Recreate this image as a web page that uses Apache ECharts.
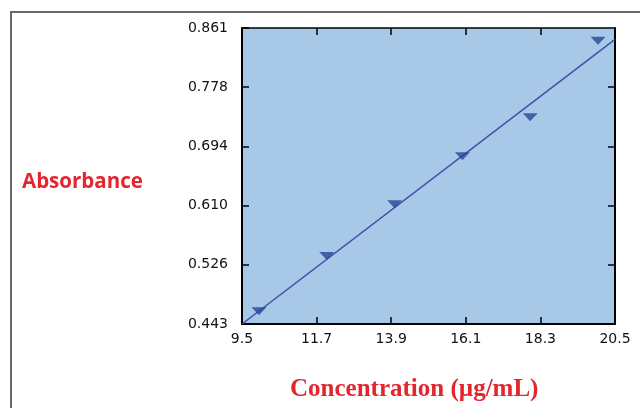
<!DOCTYPE html>
<html>
<head>
<meta charset="utf-8">
<script src="https://cdn.jsdelivr.net/npm/echarts@6/dist/echarts.min.js"></script>
<style>html,body{margin:0;padding:0;background:#fff}#chart{width:640px;height:408px}</style>
</head>
<body>
<div id="chart"></div>
<script>
const concentrations = [10, 12, 14, 16, 18, 20];
const absorbance = [0.461, 0.539, 0.612, 0.680, 0.735, 0.843];
const fitX = [9.5, 20.5];
const fitY = [0.443, 0.845];
const xTickValues = [9.5, 11.7, 13.9, 16.1, 18.3, 20.5];
const xTickLabels = ['9.5', '11.7', '13.9', '16.1', '18.3', '20.5'];
const yTickValues = [0.443, 0.5266, 0.6102, 0.6938, 0.7774, 0.861];
const yTickLabels = ['0.443', '0.526', '0.610', '0.694', '0.778', '0.861'];
const yTitle = 'Absorbance';
const xTitle = 'Concentration (µg/mL)';

function labelFor(values, labels) {
  return function (v) {
    let best = 0, bd = Infinity;
    values.forEach((t, i) => { const d = Math.abs(t - v); if (d < bd) { bd = d; best = i; } });
    return labels[best];
  };
}

const chart = echarts.init(document.getElementById('chart'), null, {renderer: 'canvas'});
const labelStyle = {color: '#111', fontFamily: 'DejaVu Sans', fontSize: 14};
const tickStyle = {show: true, inside: true, length: 7, lineStyle: {color: '#000', width: 1.5}};
chart.setOption({
  animation: false,
  grid: {left: 242, right: 25, top: 28, bottom: 84, show: true, backgroundColor: '#A8C8E8', borderWidth: 0},
  xAxis: [{
    type: 'value', min: 9.5, max: 20.5, position: 'bottom',
    splitLine: {show: false},
    axisLine: {show: true, onZero: false, lineStyle: {color: '#000', width: 2}},
    axisTick: Object.assign({customValues: xTickValues}, tickStyle),
    axisLabel: Object.assign({customValues: xTickValues, margin: 8, formatter: labelFor(xTickValues, xTickLabels), showMinLabel: true, showMaxLabel: true, hideOverlap: false}, labelStyle)
  }, {
    type: 'value', min: 9.5, max: 20.5, position: 'top',
    splitLine: {show: false},
    axisLine: {show: true, onZero: false, lineStyle: {color: '#000', width: 1.5}},
    axisTick: Object.assign({customValues: xTickValues.slice(1, -1)}, tickStyle),
    axisLabel: {show: false}
  }],
  yAxis: [{
    type: 'value', min: 0.443, max: 0.861, position: 'left',
    splitLine: {show: false},
    axisLine: {show: true, onZero: false, lineStyle: {color: '#000', width: 2}},
    axisTick: Object.assign({customValues: yTickValues}, tickStyle),
    axisLabel: Object.assign({customValues: yTickValues, margin: 14, formatter: labelFor(yTickValues, yTickLabels), showMinLabel: true, showMaxLabel: true, hideOverlap: false}, labelStyle)
  }, {
    type: 'value', min: 0.443, max: 0.861, position: 'right',
    splitLine: {show: false},
    axisLine: {show: true, onZero: false, lineStyle: {color: '#000', width: 2}},
    axisTick: Object.assign({customValues: yTickValues.slice(1, -1)}, tickStyle),
    axisLabel: {show: false}
  }],
  series: [{
    type: 'line',
    data: fitX.map((x, i) => [x, fitY[i]]),
    showSymbol: false, symbol: 'none',
    lineStyle: {color: '#3C4FA6', width: 1.5},
    z: 2
  }, {
    type: 'scatter',
    data: concentrations.map((x, i) => [x, absorbance[i]]),
    symbol: 'path://M0,0 L14,0 L7,7 Z',
    symbolSize: [15, 8],
    itemStyle: {color: '#2A4599'},
    z: 3
  }],
  graphic: [
    {type: 'polyline', shape: {points: [[11, 408], [11, 12], [640, 12]]}, style: {stroke: '#6a6a6a', lineWidth: 2, fill: null}},
    {type: 'text', left: 22, top: 172, style: {text: yTitle, fill: '#E3262E', font: 'bold 20.5px "Open Sans"'}},
    {type: 'text', left: 290, top: 377, style: {text: xTitle, fill: '#E3262E', font: 'bold 25px "Liberation Serif"'}}
  ]
});
</script>
</body>
</html>
